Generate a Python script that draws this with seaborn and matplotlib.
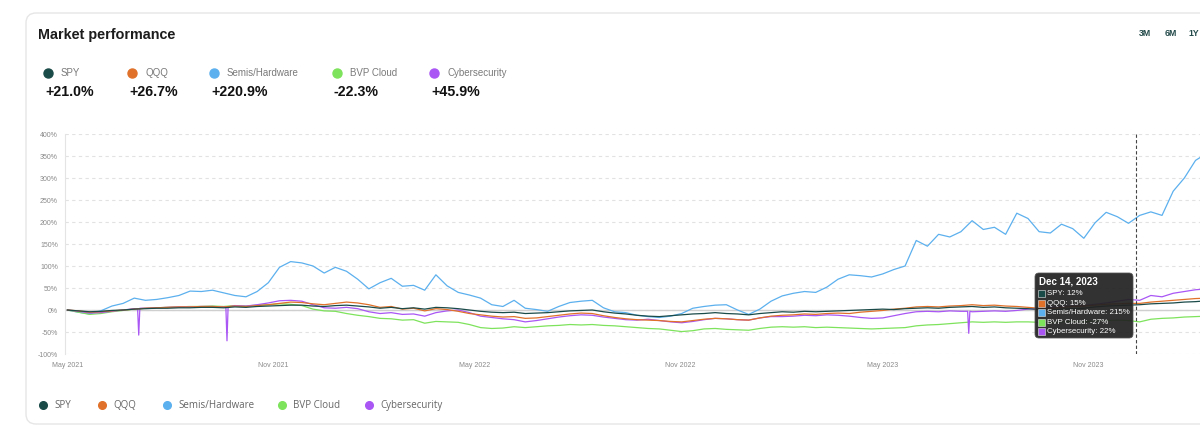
import matplotlib
matplotlib.use("Agg")
import matplotlib.pyplot as plt
import matplotlib.dates as mdates
from matplotlib.lines import Line2D
from matplotlib.patches import FancyBboxPatch, Rectangle
from matplotlib.ticker import FuncFormatter
import seaborn as sns
import pandas as pd

# --- data (% change since May 2021) ---
series_names = ["SPY", "QQQ", "Semis/Hardware", "BVP Cloud", "Cybersecurity"]
series_colors = ["#1b4b49", "#e0712a", "#5cb0ee", "#7ee35c", "#a956f5"]
header_values = [21.0, 26.7, 220.9, -22.3, 45.9]

# one sample every 10 days starting 2021-05-01
dates = pd.date_range("2021-05-01", periods=103, freq="10D")

spy = [
    0, -2, -4, -3, -1, 0, 2, 3, 4, 4,
    5, 5, 6, 6, 5, 7, 6, 8, 9, 10,
    11, 11, 9, 8, 10, 11, 9, 7, 4, 6,
    3, 5, 2, 6, 5, 3, 0, -3, -5, -6,
    -5, -8, -7, -6, -4, -2, -1, 0, -4, -7,
    -9, -12, -14, -15, -13, -11, -9, -8, -6, -8,
    -9, -11, -8, -6, -4, -5, -3, -4, -3, -2,
    -1, 0, 1, 2, 1, 3, 4, 5, 4, 6,
    7, 8, 6, 7, 5, 4, 3, 1, 0, 2,
    3, 4, 7, 9, 10, 11, 12, 14, 15, 16,
    18, 19, 21]

qqq = [
    0, -2, -5, -4, -2, 0, 2, 4, 5, 6,
    7, 7, 8, 8, 7, 9, 8, 10, 12, 15,
    18, 17, 14, 12, 15, 18, 16, 12, 6, 8,
    2, 4, -2, 3, 1, -3, -8, -11, -14, -16,
    -15, -19, -18, -15, -12, -9, -7, -8, -13, -17,
    -20, -22, -23, -24, -26, -27, -24, -21, -19, -20,
    -22, -23, -18, -14, -12, -11, -9, -10, -8, -7,
    -8, -5, -3, -1, 2, 4, 7, 8, 7, 9,
    10, 12, 10, 11, 9, 8, 6, 4, 3, 6,
    8, 9, 11, 13, 14, 15, 15, 18, 20, 22,
    24, 26, 27]

semis = [
    0, -5, -9, -2, 9, 15, 27, 22, 24, 28,
    33, 43, 42, 45, 39, 33, 30, 42, 62, 97,
    110, 107, 100, 84, 97, 88, 70, 48, 62, 72,
    54, 56, 45, 80, 55, 40, 34, 27, 12, 8,
    22, 4, 1, -3, 8, 17, 20, 22, 5, -4,
    -6, -12, -15, -17, -14, -8, 4, 8, 11, 12,
    0, -10, 2, 20, 32, 38, 42, 40, 52, 70,
    80, 78, 75, 82, 92, 100, 158, 145, 172, 166,
    178, 203, 183, 188, 172, 220, 208, 178, 175, 195,
    185, 163, 198, 222, 212, 197, 215, 223, 215, 270,
    300, 340, 356]

bvp_cloud = [
    0, -5, -10, -8, -4, -1, 2, 4, 5, 6,
    7, 8, 8, 9, 8, 10, 9, 11, 12, 14,
    13, 10, 2, -2, -3, -8, -12, -15, -19, -20,
    -23, -22, -30, -26, -27, -28, -33, -40, -42, -41,
    -38, -40, -38, -36, -35, -33, -34, -33, -35, -36,
    -38, -40, -42, -43, -46, -49, -47, -43, -42, -44,
    -45, -46, -42, -39, -38, -39, -38, -40, -39, -40,
    -41, -42, -43, -42, -41, -40, -36, -34, -33, -31,
    -29, -27, -28, -27, -28, -27, -27, -28, -29, -27,
    -26, -27, -25, -24, -23, -24, -27, -21, -19, -18,
    -16, -15, -14]

cyber = [
    0, -3, -7, -6, -3, 0, 3, 4, 5, 6,
    7, 7, 8, 8, 7, 10, 9, 12, 16, 21,
    22, 20, 12, 5, 4, 6, 3, -4, -8, -6,
    -10, -9, -14, -6, -2, 0, -6, -14, -17, -20,
    -22, -27, -24, -20, -16, -13, -11, -12, -16, -19,
    -22, -23, -21, -24, -27, -29, -26, -22, -19, -20,
    -22, -23, -18, -15, -15, -14, -12, -13, -11, -12,
    -14, -17, -19, -18, -13, -8, -4, -3, -4, -2,
    -3, -4, -3, -2, -3, -1, 2, 4, 6, 8,
    9, 10, 13, 16, 20, 24, 22, 33, 30, 38,
    42, 46, 48]

# one-day data glitches in the cybersecurity series
cyber_spike_dates = ["2021-07-03", "2021-07-04", "2021-07-05",
                     "2021-09-20", "2021-09-21", "2021-09-22",
                     "2023-07-16", "2023-07-17", "2023-07-18"]
cyber_spike_values = [3, -57, 4, 7, -70, 7, -3, -53, -3]

tooltip_date = "2023-12-14"
tooltip_values = [12, 15, 215, -27, 22]
range_buttons = ["3M", "6M", "1Y"]

# --- build long table ---
values = [spy, qqq, semis, bvp_cloud, cyber]
frames = [pd.DataFrame({"date": dates, "value": v, "series": n})
          for n, v in zip(series_names, values)]
frames.append(pd.DataFrame({"date": pd.to_datetime(cyber_spike_dates),
                            "value": cyber_spike_values,
                            "series": "Cybersecurity"}))
df = pd.concat(frames, ignore_index=True)
palette = dict(zip(series_names, series_colors))
draw_order = ["Semis/Hardware", "BVP Cloud", "Cybersecurity", "QQQ", "SPY"]

# --- figure ---
sns.set_style("white")
plt.rcParams['font.family'] = ['Liberation Sans', 'DejaVu Sans']

W, H = 1200, 436


def px(x, y):
    """pixel position (from top-left) -> inches for dpi_scale_trans"""
    return x / 100, (H - y) / 100


fig = plt.figure(figsize=(W / 100, H / 100), dpi=100)
fig.patch.set_facecolor("white")
T = fig.dpi_scale_trans

# card outline
card = FancyBboxPatch(px(26, 424), 13.0, (424 - 13) / 100,
                      boxstyle="round,pad=0,rounding_size=0.1",
                      fc="white", ec="#e6e6e6", lw=1, transform=T, zorder=-1)
fig.add_artist(card)

ax = fig.add_axes([65 / W, 1 - 354 / H, (W - 65) / W, (354 - 134) / H])
ax.set_facecolor("none")

ax.axhline(0, color="#cfcfcf", lw=1.0, zorder=1)
sns.lineplot(data=df, x="date", y="value", hue="series", hue_order=draw_order,
             palette=palette, linewidth=0.9, estimator=None, sort=True,
             legend=False, ax=ax, zorder=3)

ax.axvline(pd.Timestamp(tooltip_date), color="#444444", lw=0.8,
           ls=(0, (3, 2)), zorder=5)

ax.set_xlim(pd.Timestamp("2021-04-29"), pd.Timestamp("2024-02-09"))
ax.set_ylim(-100, 400)
ax.set_yticks(range(-100, 401, 50))
ax.yaxis.set_major_formatter(FuncFormatter(lambda v, p: f"{v:.0f}%"))
ax.xaxis.set_major_locator(mdates.MonthLocator(bymonth=[5, 11]))
ax.xaxis.set_major_formatter(mdates.DateFormatter("%b %Y"))
ax.set_xlabel("")
ax.set_ylabel("")
ax.yaxis.grid(True, color="#e2e2e2", lw=0.8, ls=(0, (3, 3)))
ax.xaxis.grid(False)
for side in ["top", "right", "bottom"]:
    ax.spines[side].set_visible(False)
ax.spines["left"].set_color("#e4e4e4")
ax.spines["left"].set_linewidth(0.8)
ax.tick_params(axis="both", length=0, labelsize=5, labelcolor="#8a8a8a")
ax.tick_params(axis="y", pad=5)
ax.tick_params(axis="x", pad=6)

# title and range buttons
fig.text(*px(38, 35), "Market performance", transform=T, fontsize=10.4,
         fontweight="bold", color="#1c1c1c", va="center")
for label, bx in zip(range_buttons, [1139, 1165, 1188]):
    fig.text(*px(bx, 33), label, transform=T, fontsize=6.3, fontweight="bold",
             color="#244a4a", va="center")

# header legend with values
dot_x = [48, 132, 214, 337, 434]
for name, color, val, dx in zip(series_names, series_colors, header_values, dot_x):
    fig.add_artist(Line2D([px(dx, 73)[0]], [px(dx, 73)[1]], transform=T,
                          marker="o", markersize=6.5, color=color, lw=0))
    fig.text(*px(dx + 13, 73), name, transform=T, fontsize=7,
             color="#7a7a7a", va="center")
    fig.text(*px(dx - 3, 92), f"{val:+.1f}%", transform=T, fontsize=10.2,
             fontweight="bold", color="#111111", va="center")

# bottom legend
foot_x = [43, 102, 167, 282, 369]
for name, color, fx in zip(series_names, series_colors, foot_x):
    fig.add_artist(Line2D([px(fx, 405)[0]], [px(fx, 405)[1]], transform=T,
                          marker="o", markersize=5.5, color=color, lw=0))
    fig.text(*px(fx + 11, 405), name, transform=T, fontsize=7,
             family=["Open Sans", "DejaVu Sans"], color="#666666", va="center")

# tooltip
tip = FancyBboxPatch(px(1035, 338), 0.98, 0.65,
                     boxstyle="round,pad=0,rounding_size=0.04",
                     fc="#222222", ec="#555555", lw=0.6, alpha=0.93,
                     transform=T, zorder=10)
fig.add_artist(tip)
tip_date = pd.Timestamp(tooltip_date)
fig.text(*px(1039, 281), f"{tip_date:%b} {tip_date.day}, {tip_date.year}",
         transform=T, fontsize=7, fontweight="bold", color="white",
         va="center", zorder=11)
row_y = [293, 303, 312, 322, 331]
for name, color, val, ry in zip(series_names, series_colors, tooltip_values, row_y):
    fig.add_artist(Rectangle(px(1038, ry + 3.5), 0.07, 0.07, fc=color,
                             ec="#e8e8e8", lw=0.4, transform=T, zorder=11))
    fig.text(*px(1047, ry), f"{name}: {val}%", transform=T, fontsize=5.7,
             color="white", va="center", zorder=11)

fig.savefig("out.png", dpi=100)
